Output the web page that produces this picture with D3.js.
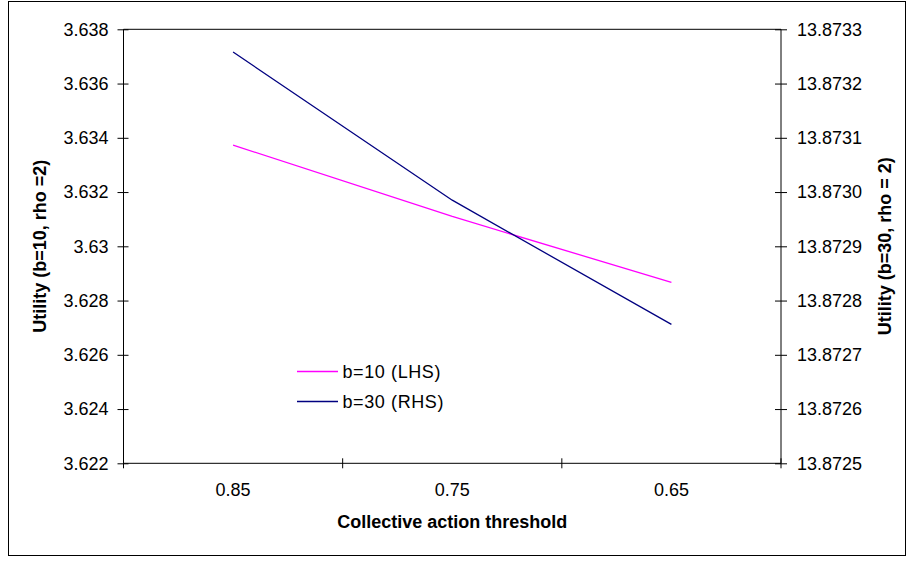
<!DOCTYPE html>
<html><head><meta charset="utf-8">
<script src="https://cdn.jsdelivr.net/npm/d3@7"></script>
<style>
body{margin:0;background:#fff;}
text{font-family:Arial,"Liberation Sans",sans-serif;}
</style></head>
<body><svg id="c" width="914" height="561"></svg>
<script>
const categories = ["0.85", "0.75", "0.65"];
const seriesB10 = [3.63373, 3.63110, 3.62867];
const seriesB30 = [13.873258, 13.872985, 13.872756];
const leftTicks = [3.622, 3.624, 3.626, 3.628, 3.63, 3.632, 3.634, 3.636, 3.638];
const rightTicks = [13.8725, 13.8726, 13.8727, 13.8728, 13.8729, 13.873, 13.8731, 13.8732, 13.8733];
const rightTickLabels = ["13.8725","13.8726","13.8727","13.8728","13.8729","13.8730","13.8731","13.8732","13.8733"];
const seriesNames = ["b=10 (LHS)", "b=30 (RHS)"];
const colors = ["#ff00ff", "#000080"];

const svg = d3.select("#c");
const FS = 18;
svg.append("rect").attr("x", 8.5).attr("y", 1.5).attr("width", 897).attr("height", 554)
  .attr("fill", "#fff").attr("stroke", "#000").attr("stroke-width", 1);

const L = 123.5, R = 781, T = 29.3, B = 463.3;
const x = d3.scaleBand().domain(categories).range([L, R]);
const yL = d3.scaleLinear().domain([3.622, 3.638]).range([B, T]);
const yR = d3.scaleLinear().domain([13.8725, 13.8733]).range([B, T]);

const g = svg.append("g");
g.append("line").attr("x1", L).attr("x2", R).attr("y1", B).attr("y2", B).attr("stroke", "#000");
g.append("line").attr("x1", L).attr("x2", R).attr("y1", T).attr("y2", T).attr("stroke", "#000");
g.append("line").attr("x1", L).attr("x2", L).attr("y1", T).attr("y2", B).attr("stroke", "#000");
g.append("line").attr("x1", R).attr("x2", R).attr("y1", T).attr("y2", B).attr("stroke", "#000");

// left axis
const la = d3.axisLeft(yL).tickValues(leftTicks).tickSize(0).tickPadding(0).tickFormat(d => String(d));
const lg = g.append("g").attr("transform", `translate(${L},0)`).call(la);
lg.select(".domain").remove();
lg.selectAll(".tick text").attr("x", -15).attr("font-size", FS).attr("fill", "#000").style("font-family", "Arial");
lg.selectAll(".tick").append("line").attr("x1", -6).attr("x2", 5).attr("stroke", "#000");

// right axis
const ra = d3.axisRight(yR).tickValues(rightTicks).tickSize(0).tickPadding(0).tickFormat((d, i) => rightTickLabels[i]);
const rg = g.append("g").attr("transform", `translate(${R},0)`).call(ra);
rg.select(".domain").remove();
rg.selectAll(".tick text").attr("x", 16).attr("font-size", FS).attr("fill", "#000").style("font-family", "Arial");
rg.selectAll(".tick").append("line").attr("x1", -6).attr("x2", 6).attr("stroke", "#000");

// x axis
const xa = d3.axisBottom(x).tickSize(0).tickPadding(0);
const xg = g.append("g").attr("transform", `translate(0,${B})`).call(xa);
xg.select(".domain").remove();
xg.selectAll(".tick text").attr("y", 20).attr("font-size", FS).attr("fill", "#000").style("font-family", "Arial");
const bounds = categories.map(c => x(c)).concat([x(categories[categories.length - 1]) + x.bandwidth()]);
xg.selectAll(".bt").data(bounds).enter().append("line")
  .attr("x1", d => d).attr("x2", d => d).attr("y1", -5).attr("y2", 5).attr("stroke", "#000");

// lines
const cx = c => x(c) + x.bandwidth() / 2;
const line1 = d3.line().x((d, i) => cx(categories[i])).y(d => yL(d));
const line2 = d3.line().x((d, i) => cx(categories[i])).y(d => yR(d));
g.append("path").attr("d", line1(seriesB10)).attr("fill", "none").attr("stroke", colors[0]).attr("stroke-width", 1.3);
g.append("path").attr("d", line2(seriesB30)).attr("fill", "none").attr("stroke", colors[1]).attr("stroke-width", 1.3);

// legend
const leg = g.append("g");
seriesNames.forEach((n, i) => {
  const yy = 371.5 + i * 30;
  leg.append("line").attr("x1", 297).attr("x2", 338).attr("y1", yy).attr("y2", yy).attr("stroke", colors[i]).attr("stroke-width", 1.3);
  leg.append("text").attr("x", 342.5).attr("y", yy).attr("dy", "0.35em").attr("font-size", FS)
    .style("letter-spacing", "0.6px").text(n);
});

// titles
svg.append("text").attr("transform", `translate(46,${(T + B) / 2}) rotate(-90)`).attr("text-anchor", "middle")
  .attr("font-size", FS).attr("font-weight", "bold").text("Utility (b=10, rho =2)");
svg.append("text").attr("transform", `translate(891,${(T + B) / 2}) rotate(-90)`).attr("text-anchor", "middle")
  .attr("font-size", FS).attr("font-weight", "bold").text("Utility (b=30, rho = 2)");
svg.append("text").attr("x", (L + R) / 2).attr("y", 528).attr("text-anchor", "middle")
  .attr("font-size", FS).attr("font-weight", "bold").text("Collective action threshold");
</script></body></html>
